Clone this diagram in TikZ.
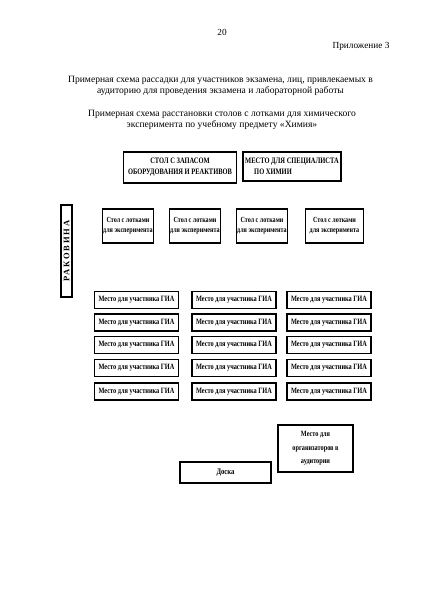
\documentclass[tikz,border=0pt]{standalone}
\usepackage{fontspec}
\setmainfont{Liberation Serif}
\newfontfamily\uzkij[FakeStretch=0.78]{Liberation Serif}
\newfontfamily\razrjadka[LetterSpace=22]{Liberation Serif}

\tikzset{
    stol/.style={draw, line width=1.1pt, inner sep=0pt, align=center,
        font=\uzkij\bfseries\fontsize{8.1}{10}\selectfont},
    mesto/.style={stol, minimum width=84pt, minimum height=17pt},
    lotok/.style={stol, minimum height=34pt,
        font=\uzkij\bfseries\fontsize{7.8}{10}\selectfont},
    zagolovok/.style={align=center, font=\fontsize{9.6}{11}\selectfont}
}

\begin{document}
\begin{tikzpicture}[x=1pt, y=-1pt]
    \useasboundingbox (0,0) rectangle (424,600);

    % Шапка страницы
    \node[font=\fontsize{9.3}{11}\selectfont] (nomer) at (222,32.5) {20};
    \node[anchor=east, font=\fontsize{9.3}{11}\selectfont] (prilozh) at (393,46.5) {Приложение 3};
    \node[zagolovok] (zag1) at (220.5,85.5) {Примерная схема рассадки для участников экзамена, лиц, привлекаемых в\\
        аудиторию для проведения экзамена и лабораторной работы};
    \node[zagolovok] (zag2) at (222,119.5) {Примерная схема расстановки столов с лотками для химического\\
        эксперимента по учебному предмету «Химия»};

    % Стол с реактивами и место специалиста
    \node[stol, minimum width=113pt, minimum height=31pt,
        font=\uzkij\bfseries\fontsize{8.3}{11}\selectfont] (zapas) at (180,167.5)
        {СТОЛ С ЗАПАСОМ\\ ОБОРУДОВАНИЯ И РЕАКТИВОВ};
    \node[stol, minimum width=98pt, minimum height=29pt, align=left,
        font=\uzkij\bfseries\fontsize{8.3}{11}\selectfont] (specialist) at (292,166.5)
        {МЕСТО ДЛЯ СПЕЦИАЛИСТА\\ \hspace*{9pt}ПО ХИМИИ};

    % Раковина
    \node[stol, rotate=90, minimum width=92pt, minimum height=11pt,
        font=\razrjadka\bfseries\fontsize{8.5}{9}\selectfont] (rakovina) at (66.5,251) {РАКОВИНА};

    % Столы с лотками
    \foreach \x/\w [count=\i] in {128/51, 195/51, 262/51, 334.5/58}
        \node[lotok, minimum width=\w pt] (lotok\i) at (\x,226)
            {Стол с лотками\\ для эксперимента};

    % Места участников
    \foreach \x [count=\k] in {136.5, 234, 329}
        \foreach \y [count=\r] in {300, 322.5, 345, 368, 391.5}
            \node[mesto] (uchastnik\k\r) at (\x,\y) {Место для участника ГИА};

    % Доска и организаторы
    \node[stol, minimum width=91pt, minimum height=21pt,
        font=\uzkij\bfseries\fontsize{8.5}{9}\selectfont] (doska) at (225.5,472.5) {Доска};
    \node[stol, minimum width=75pt, minimum height=47pt,
        font=\uzkij\bfseries\fontsize{8}{13.5}\selectfont] (organizatory) at (315.5,448.5)
        {Место для\\ организаторов в\\ аудитории};
\end{tikzpicture}
\end{document}
